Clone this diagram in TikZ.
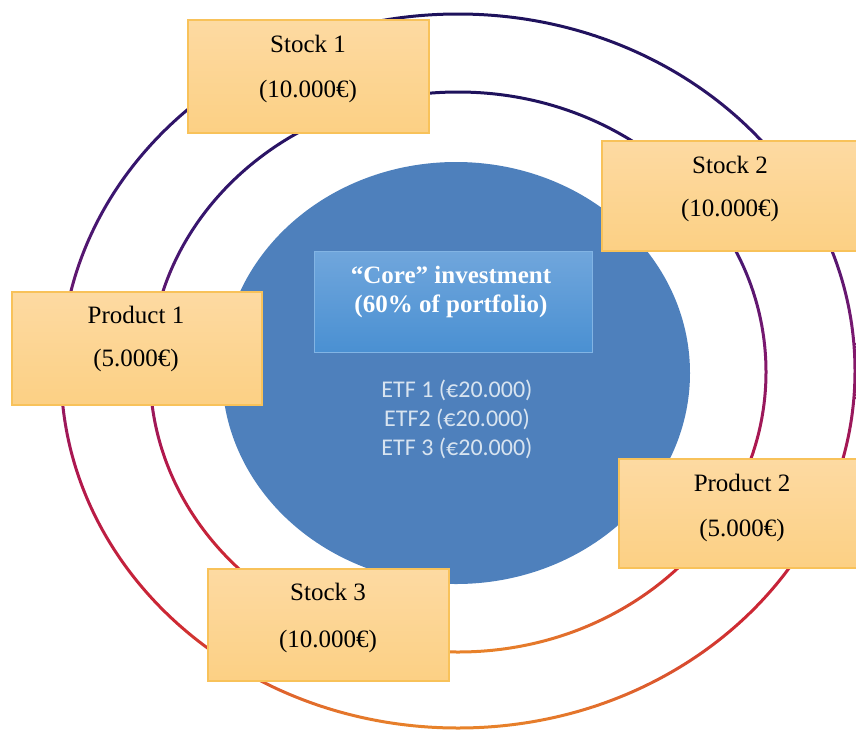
\documentclass[tikz,border=0pt]{standalone}
\usepackage{fontspec}
\setmainfont{Liberation Serif}
\newfontfamily\etffont{Carlito}

% ring colours, from top (navy) to bottom (orange)
\definecolor{ringnavy}{RGB}{30,18,92}
\definecolor{ringindigo}{RGB}{58,22,112}
\definecolor{ringpurple}{RGB}{122,24,112}
\definecolor{ringcrimson}{RGB}{178,24,76}
\definecolor{ringred}{RGB}{206,40,50}
\definecolor{ringorange}{RGB}{232,132,42}
\definecolor{coreblue}{RGB}{78,128,188}
\definecolor{coretop}{RGB}{112,166,220}
\definecolor{corebottom}{RGB}{74,144,210}
\definecolor{coreedge}{RGB}{130,180,228}
\definecolor{boxtop}{RGB}{253,218,162}
\definecolor{boxbottom}{RGB}{252,208,132}
\definecolor{boxedge}{RGB}{248,194,90}
\definecolor{etftext}{RGB}{216,228,240}

\pgfdeclareverticalshading{ringshade}{100bp}{%
  color(0bp)=(ringorange); color(25bp)=(ringorange);
  color(32.5bp)=(ringred); color(42.5bp)=(ringcrimson);
  color(52.5bp)=(ringpurple); color(62.5bp)=(ringindigo);
  color(75bp)=(ringnavy); color(100bp)=(ringnavy)}

\tikzset{
  ringline/.style={shading=ringshade, even odd rule},
  amountbox/.style={draw=boxedge, line width=1.2pt, top color=boxtop,
    bottom color=boxbottom, rectangle, inner sep=0pt},
  corebox/.style={draw=coreedge, line width=0.6pt, top color=coretop,
    bottom color=corebottom, rectangle, inner sep=0pt,
    minimum width=278pt, minimum height=101pt},
  boxtext/.style={anchor=base, inner sep=0pt,
    font=\fontsize{25}{29}\selectfont},
  coretext/.style={anchor=base, inner sep=0pt, text=white,
    font=\fontsize{25}{29}\selectfont\bfseries},
  etfline/.style={anchor=base, inner sep=0pt, text=etftext,
    font=\fontsize{24}{29}\selectfont\etffont}
}

\begin{document}
\begin{tikzpicture}[x=1pt,y=-1pt]
\useasboundingbox (0,0) rectangle (856,731);

% concentric rings
\coordinate (outerc) at (458,371);
\coordinate (innerc) at (458,372);
\shade[ringline] (outerc) ellipse [x radius=398.5pt, y radius=358.5pt]
                 (outerc) ellipse [x radius=395.5pt, y radius=355.5pt];
\shade[ringline] (innerc) ellipse [x radius=309.5pt, y radius=281.5pt]
                 (innerc) ellipse [x radius=306.5pt, y radius=278.5pt];

% core disc
\fill[coreblue] (456,373) ellipse [x radius=234pt, y radius=211pt];

% core heading box
\node[corebox] (core) at (453,301.5) {};
\node[coretext] (coreA) at (451,283) {“Core” investment};
\node[coretext] (coreB) at (451,312) {(60\% of portfolio)};

% ETF list
\node[etfline] (etf1) at (457,397) {ETF 1 (€20.000)};
\node[etfline] (etf2) at (457,426) {ETF2 (€20.000)};
\node[etfline] (etf3) at (457,455) {ETF 3 (€20.000)};

% satellite holdings
\node[amountbox, minimum width=241pt, minimum height=113pt] (stock1) at (308.5,76.5) {};
\node[boxtext] at (308,52) {Stock 1};
\node[boxtext] at (308,97) {(10.000€)};

\node[amountbox, minimum width=258pt, minimum height=110pt] (stock2) at (731,196) {};
\node[boxtext] at (730,173) {Stock 2};
\node[boxtext] at (730,216) {(10.000€)};

\node[amountbox, minimum width=250pt, minimum height=113pt] (prod1) at (137,348.5) {};
\node[boxtext] at (136,323) {Product 1};
\node[boxtext] at (136,366) {(5.000€)};

\node[amountbox, minimum width=246pt, minimum height=109pt] (prod2) at (742,513.5) {};
\node[boxtext] at (742,491) {Product 2};
\node[boxtext] at (742,536) {(5.000€)};

\node[amountbox, minimum width=241pt, minimum height=112pt] (stock3) at (328.5,625) {};
\node[boxtext] at (328,600) {Stock 3};
\node[boxtext] at (328,647) {(10.000€)};
\end{tikzpicture}
\end{document}
